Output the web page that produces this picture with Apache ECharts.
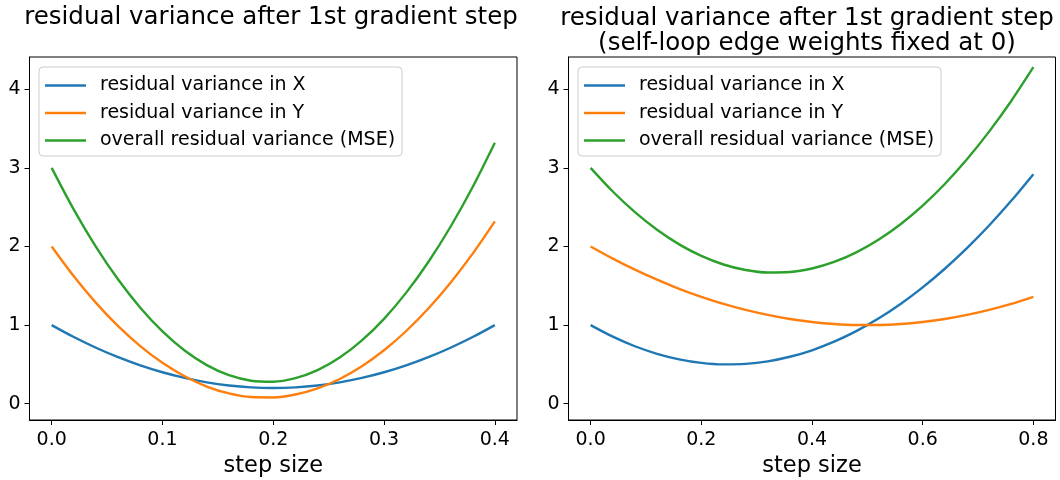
<!DOCTYPE html>
<html>
<head>
<meta charset="utf-8">
<script src="https://cdn.jsdelivr.net/npm/echarts@6/dist/echarts.min.js"></script>
<style>
  html, body { margin: 0; padding: 0; background: #fff; }
  #chart { width: 1060px; height: 480px; }
</style>
</head>
<body>
<div id="chart"></div>
<script>
// Step sizes and residual variances, left panel (all edge weights trained)
const stepsA = [0, 0.02, 0.04, 0.06, 0.08, 0.10, 0.12, 0.14, 0.16, 0.18, 0.20,
                0.22, 0.24, 0.26, 0.28, 0.30, 0.32, 0.34, 0.36, 0.38, 0.40];
const varXA = [1.000, 0.848, 0.712, 0.592, 0.488, 0.400, 0.328, 0.272, 0.232, 0.208, 0.200,
               0.208, 0.232, 0.272, 0.328, 0.400, 0.488, 0.592, 0.712, 0.848, 1.000];
const varYA = [2.000, 1.621, 1.283, 0.987, 0.733, 0.520, 0.349, 0.219, 0.131, 0.085, 0.080,
               0.117, 0.195, 0.315, 0.477, 0.680, 0.925, 1.211, 1.539, 1.909, 2.320];
const mseA  = [3.000, 2.469, 1.995, 1.579, 1.221, 0.920, 0.677, 0.491, 0.363, 0.293, 0.280,
               0.325, 0.427, 0.587, 0.805, 1.080, 1.413, 1.803, 2.251, 2.757, 3.320];

// Right panel (self-loop edge weights fixed at 0)
const stepsB = [0, 0.04, 0.08, 0.12, 0.16, 0.20, 0.24, 0.28, 0.32, 0.36, 0.40,
                0.44, 0.48, 0.52, 0.56, 0.60, 0.64, 0.68, 0.72, 0.76, 0.80];
const varXB = [1.000, 0.853, 0.731, 0.635, 0.565, 0.520, 0.501, 0.507, 0.539, 0.597, 0.680,
               0.789, 0.923, 1.083, 1.269, 1.480, 1.717, 1.979, 2.267, 2.581, 2.920];
const varYB = [2.000, 1.846, 1.706, 1.578, 1.462, 1.360, 1.270, 1.194, 1.130, 1.078, 1.040,
               1.014, 1.002, 1.002, 1.014, 1.040, 1.078, 1.130, 1.194, 1.270, 1.360];
const mseB  = [3.000, 2.699, 2.437, 2.213, 2.027, 1.880, 1.771, 1.701, 1.669, 1.675, 1.720,
               1.803, 1.925, 2.085, 2.283, 2.520, 2.795, 3.109, 3.461, 3.851, 4.280];

// Tick labels
const xTicksA = [0, 0.1, 0.2, 0.3, 0.4];
const xTicksB = [0, 0.2, 0.4, 0.6, 0.8];
const yTicks = [0, 1, 2, 3, 4];

const names = ['residual variance in X', 'residual variance in Y', 'overall residual variance (MSE)'];
const colors = ['#1f77b4', '#ff7f0e', '#2ca02c'];
const titleA = 'residual variance after 1st gradient step';
const titleB = 'residual variance after 1st gradient step\n(self-loop edge weights fixed at 0)';
const xName = 'step size';

const FONT = 'DejaVu Sans';

function zip(xs, ys) { return xs.map((x, i) => [x, ys[i]]); }

function xAxis(gridIndex, min, max, ticks) {
  return {
    type: 'value', gridIndex, min, max,
    name: xName, nameLocation: 'middle', nameGap: 35,
    nameTextStyle: { fontFamily: FONT, fontSize: 22.5, color: '#000' },
    splitLine: { show: false },
    axisLine: { show: true, onZero: false, lineStyle: { color: '#000', width: 1 } },
    axisTick: { show: true, length: 5, lineStyle: { color: '#000' }, customValues: ticks },
    axisLabel: { fontFamily: FONT, fontSize: 19, color: '#000', margin: 11,
                 customValues: ticks, formatter: v => v.toFixed(1) }
  };
}

function yAxis(gridIndex) {
  return {
    type: 'value', gridIndex, min: -0.207, max: 4.41,
    splitLine: { show: false },
    axisLine: { show: true, onZero: false, lineStyle: { color: '#000', width: 1 } },
    axisTick: { show: true, length: 5, lineStyle: { color: '#000' }, customValues: yTicks },
    axisLabel: { fontFamily: FONT, fontSize: 19, color: '#000', margin: 9,
                 customValues: yTicks, formatter: v => String(v) }
  };
}

function legend(left) {
  return {
    data: names, orient: 'vertical', left, top: 67,
    icon: 'rect', itemWidth: 41, itemHeight: 2.5, itemGap: 8.5,
    padding: [9, 7, 6, 6],
    backgroundColor: 'rgba(255,255,255,0.8)', borderColor: '#cccccc', borderWidth: 1, borderRadius: 4,
    textStyle: { fontFamily: FONT, fontSize: 19, color: '#000', padding: [0, 0, 0, 9], lineHeight: 19 },
    selectedMode: false
  };
}

function line(name, data, xi, color) {
  return {
    type: 'line', name, data, xAxisIndex: xi, yAxisIndex: xi,
    smooth: 0.3, showSymbol: false, symbol: 'none',
    lineStyle: { color, width: 2.4 }, itemStyle: { color },
    animation: false
  };
}

const gridBase = { top: 57, height: 363, show: true, borderColor: '#000', borderWidth: 1,
                   backgroundColor: 'transparent', containLabel: false, outerBoundsMode: 'none' };

const chart = echarts.init(document.getElementById('chart'), null, { renderer: 'canvas' });
chart.setOption({
  backgroundColor: '#fff',
  animation: false,
  title: [
    { text: titleA, left: 266, textAlign: 'center', top: 0,
      textStyle: { fontFamily: FONT, fontSize: 24.5, fontWeight: 'normal', color: '#000', lineHeight: 25 } },
    { text: titleB, left: 802, textAlign: 'center', top: 1,
      textStyle: { fontFamily: FONT, fontSize: 24.5, fontWeight: 'normal', color: '#000', lineHeight: 25 } }
  ],
  legend: [legend(39), legend(578)],
  grid: [
    Object.assign({ left: 29.5, width: 487.5 }, gridBase),
    Object.assign({ left: 568.5, width: 487 }, gridBase)
  ],
  xAxis: [xAxis(0, -0.02, 0.42, xTicksA), xAxis(1, -0.04, 0.84, xTicksB)],
  yAxis: [yAxis(0), yAxis(1)],
  series: [
    line(names[0], zip(stepsA, varXA), 0, colors[0]),
    line(names[1], zip(stepsA, varYA), 0, colors[1]),
    line(names[2], zip(stepsA, mseA), 0, colors[2]),
    line(names[0], zip(stepsB, varXB), 1, colors[0]),
    line(names[1], zip(stepsB, varYB), 1, colors[1]),
    line(names[2], zip(stepsB, mseB), 1, colors[2])
  ]
});
</script>
</body>
</html>
